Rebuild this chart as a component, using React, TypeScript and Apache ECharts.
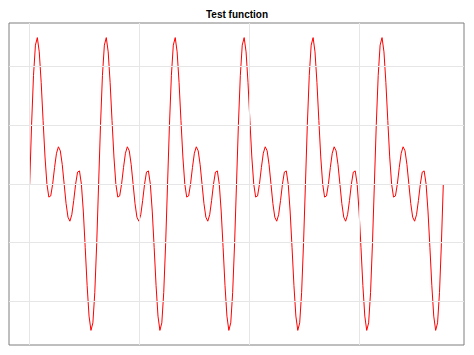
import React, { useEffect, useRef } from "react";
import * as echarts from "echarts";

const yValues: number[] = [
  0, 1.016, 1.851, 2.366, 2.494, 2.251, 1.732, 1.082, 0.461, 0, -0.223, -0.203,
  0, 0.281, 0.524, 0.634, 0.565, 0.332, 0, -0.332, -0.565, -0.634, -0.524, -0.281,
  0, 0.203, 0.223, 0, -0.461, -1.082, -1.732, -2.251, -2.494, -2.366, -1.851, -1.016,
  0, 1.016, 1.851, 2.366, 2.494, 2.251, 1.732, 1.082, 0.461, 0, -0.223, -0.203,
  0, 0.281, 0.524, 0.634, 0.565, 0.332, 0, -0.332, -0.565, -0.634, -0.524, -0.281,
  0, 0.203, 0.223, 0, -0.461, -1.082, -1.732, -2.251, -2.494, -2.366, -1.851, -1.016,
  0, 1.016, 1.851, 2.366, 2.494, 2.251, 1.732, 1.082, 0.461, 0, -0.223, -0.203,
  0, 0.281, 0.524, 0.634, 0.565, 0.332, 0, -0.332, -0.565, -0.634, -0.524, -0.281,
  0, 0.203, 0.223, 0, -0.461, -1.082, -1.732, -2.251, -2.494, -2.366, -1.851, -1.016,
  0, 1.016, 1.851, 2.366, 2.494, 2.251, 1.732, 1.082, 0.461, 0, -0.223, -0.203,
  0, 0.281, 0.524, 0.634, 0.565, 0.332, 0, -0.332, -0.565, -0.634, -0.524, -0.281,
  0, 0.203, 0.223, 0, -0.461, -1.082, -1.732, -2.251, -2.494, -2.366, -1.851, -1.016,
  0, 1.016, 1.851, 2.366, 2.494, 2.251, 1.732, 1.082, 0.461, 0, -0.223, -0.203,
  0, 0.281, 0.524, 0.634, 0.565, 0.332, 0, -0.332, -0.565, -0.634, -0.524, -0.281,
  0, 0.203, 0.223, 0, -0.461, -1.082, -1.732, -2.251, -2.494, -2.366, -1.851, -1.016,
  0, 1.016, 1.851, 2.366, 2.494, 2.251, 1.732, 1.082, 0.461, 0, -0.223, -0.203,
  0, 0.281, 0.524, 0.634, 0.565, 0.332, 0, -0.332, -0.565, -0.634, -0.524, -0.281,
  0, 0.203, 0.223, 0, -0.461, -1.082, -1.732, -2.251, -2.494, -2.366, -1.851, -1.016,
  0,
];

const X_STEP = Math.PI / 36;
const X_MIN = -0.9425;
const X_MAX = 19.792;
const Y_MIN = -2.743;
const Y_MAX = 2.743;
const xGridTicks: number[] = [0, 5, 10, 15];
const yGridTicks: number[] = [-2, -1, 0, 1, 2];
const titleText = "Test function";

export default function App() {
  const ref = useRef<HTMLDivElement>(null);
  useEffect(() => {
    if (!ref.current) return;
    const chart = echarts.init(ref.current, undefined, { renderer: "svg" });
    const data = yValues.map((y, i) => [i * X_STEP, y]);
    const gridLine = { color: "#e6e6e6", width: 1, type: "solid" as const };
    chart.setOption({
      animation: false,
      backgroundColor: "#ffffff",
      title: {
        text: titleText,
        left: "center",
        top: 9,
        padding: 0,
        textStyle: {
          fontFamily: "Liberation Sans, Arial, sans-serif",
          fontSize: 10,
          fontWeight: "bold",
          color: "#000000",
        },
      },
      grid: {
        left: 9,
        right: 10,
        top: 23,
        bottom: 10,
        show: true,
        borderColor: "#7f7f7f",
        borderWidth: 1,
        backgroundColor: "transparent",
      },
      xAxis: {
        type: "value",
        min: X_MIN,
        max: X_MAX,
        axisLine: { show: false },
        axisTick: { show: false },
        axisLabel: { show: false },
        splitLine: { show: false },
      },
      yAxis: {
        type: "value",
        min: Y_MIN,
        max: Y_MAX,
        axisLine: { show: false },
        axisTick: { show: false },
        axisLabel: { show: false },
        splitLine: { show: false },
      },
      series: [
        {
          type: "line",
          data: [],
          silent: true,
          markLine: {
            silent: true,
            symbol: "none",
            label: { show: false },
            lineStyle: gridLine,
            emphasis: { disabled: true },
            data: [
              ...xGridTicks.map((v) => ({ xAxis: v })),
              ...yGridTicks.map((v) => ({ yAxis: v })),
            ],
          },
        },
        {
          type: "line",
          data,
          showSymbol: false,
          smooth: false,
          silent: true,
          lineStyle: { color: "#ff0000", width: 1 },
        },
      ],
    });
    return () => chart.dispose();
  }, []);
  return (
    <div
      ref={ref}
      style={{ position: "fixed", left: 0, top: 0, width: 474, height: 355 }}
    />
  );
}
